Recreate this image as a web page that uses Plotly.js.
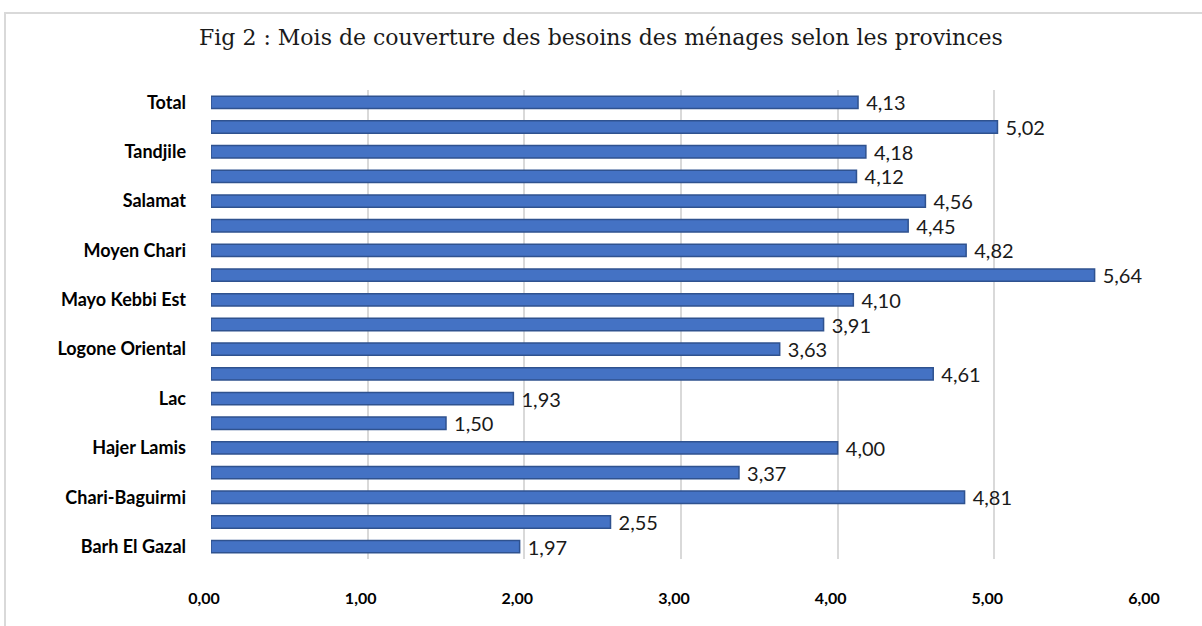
<!DOCTYPE html>
<html>
<head>
<meta charset="utf-8">
<script src="https://cdn.plot.ly/plotly-3.0.1.min.js"></script>
<style>
  html, body { margin: 0; padding: 0; background: #ffffff; }
  #wrap { position: relative; width: 1202px; height: 626px; overflow: hidden; }
  #frame { position: absolute; left: 4px; top: 12px; width: 1300px; height: 700px;
           border-left: 2px solid #d9d9d9; border-top: 2px solid #d9d9d9; pointer-events: none; z-index: 2; }
  #chart { position: absolute; left: 0; top: 0; width: 1202px; height: 626px; }
</style>
</head>
<body>
<div id="wrap">
  <div id="chart"></div>
  <div id="frame"></div>
</div>
<script>
// Categories from bottom to top (unlabelled rows are the provinces between the shown labels)
var provinces = [
  "Barh El Gazal", "Batha", "Chari-Baguirmi", "Guera", "Hajer Lamis", "Kanem",
  "Lac", "Logone Occidental", "Logone Oriental", "Mandoul", "Mayo Kebbi Est",
  "Mayo Kebbi Ouest", "Moyen Chari", "Ouaddai", "Salamat", "Sila", "Tandjile",
  "Wadi Fira", "Total"
];
var moisCouverture = [
  1.97, 2.55, 4.81, 3.37, 4.00, 1.50,
  1.93, 4.61, 3.63, 3.91, 4.10,
  5.64, 4.82, 4.45, 4.56, 4.12, 4.18,
  5.02, 4.13
];
// Tick labels actually shown on the category axis
var shownLabels = [
  "Barh El Gazal", "Chari-Baguirmi", "Hajer Lamis", "Lac", "Logone Oriental",
  "Mayo Kebbi Est", "Moyen Chari", "Salamat", "Tandjile", "Total"
];
var xTickVals = [0, 1, 2, 3, 4, 5, 6];
var xTickText = ["0,00", "1,00", "2,00", "3,00", "4,00", "5,00", "6,00"];
var titleText = "Fig 2 : Mois de couverture des besoins des ménages selon les provinces";

var trace = {
  type: "bar",
  orientation: "h",
  y: provinces,
  x: moisCouverture,
  marker: { color: "#4472C4", line: { color: "#2F528F", width: 1.5 } },
  text: moisCouverture.map(function (v) { return " " + v.toFixed(2).replace(".", ","); }),
  textposition: "outside",
  constraintext: "none",
  textfont: { family: "Lato, 'Open Sans', sans-serif", size: 20, color: "#1a1a1a" },
  cliponaxis: false,
  hoverinfo: "x+y"
};

var layout = {
  width: 1202,
  height: 626,
  margin: { l: 211, r: 51, t: 90, b: 67 },
  paper_bgcolor: "#ffffff",
  plot_bgcolor: "#ffffff",
  showlegend: false,
  bargap: 0.5,
  title: {
    text: titleText,
    font: { family: "'DejaVu Serif', serif", size: 22, color: "#1a1a1a" },
    x: 0.5, xanchor: "center",
    y: 1 - 37 / 626, yanchor: "middle"
  },
  xaxis: {
    range: [0, 6],
    showgrid: true,
    gridcolor: "#d9d9d9",
    gridwidth: 2,
    tickmode: "array",
    tickvals: xTickVals,
    ticktext: xTickText,
    ticks: "",
    ticklabelshift: -7,
    ticklabelstandoff: 28,
    zeroline: false,
    showline: false,
    tickfont: { family: "Lato, 'Open Sans', sans-serif", size: 16, color: "#000000", weight: "bold" }
  },
  yaxis: {
    type: "category",
    range: [-0.5, 18.5],
    showgrid: false,
    zeroline: false,
    showline: false,
    tickmode: "array",
    tickvals: shownLabels,
    ticktext: shownLabels,
    ticks: "",
    ticklabelstandoff: 24,
    tickfont: { family: "Lato, 'Open Sans', sans-serif", size: 18, color: "#000000", weight: "bold" }
  }
};

Plotly.newPlot("chart", [trace], layout, { displayModeBar: false, staticPlot: true });
</script>
</body>
</html>
